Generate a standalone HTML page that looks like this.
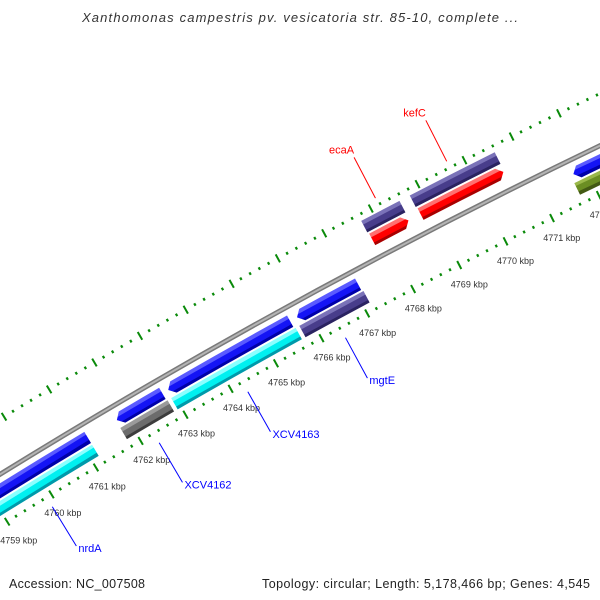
<!DOCTYPE html>
<html><head><meta charset="utf-8"><style>
html,body{margin:0;padding:0;background:#fff;}
svg{display:block;}
text{font-family:"Liberation Sans","DejaVu Sans",sans-serif;}
</style></head><body>
<svg id="map" width="600" height="600" viewBox="0 0 600 600" xmlns="http://www.w3.org/2000/svg">
<defs id="defs"></defs>
<rect x="0" y="0" width="600" height="600" fill="#fff"/>
<g id="ticks"></g>
<g id="backbone"></g>
<g id="features"></g>
<g id="labels"></g>
<text x="300" y="22" text-anchor="middle" font-size="13" font-style="italic" fill="#333" textLength="436">Xanthomonas campestris pv. vesicatoria str. 85-10, complete ...</text>
<text x="9" y="588" font-size="12.5" fill="#222" textLength="136">Accession: NC_007508</text>
<text x="590" y="588" text-anchor="end" font-size="12.5" fill="#222" textLength="328">Topology: circular; Length: 5,178,466 bp; Genes: 4,545</text>
</svg>
<script>
// ---- data (kbp) ----
const featureStarts = [4757.0, 4761.81, 4762.95, 4765.78, 4771.74, 4757.0, 4761.79, 4762.92, 4765.74, 4771.68, 4767.75, 4768.79, 4767.73, 4768.77];
const featureEnds   = [4761.16, 4762.82, 4765.63, 4767.11, 4776.0, 4761.16, 4762.84, 4765.66, 4767.14, 4776.0, 4768.53, 4770.56, 4768.55, 4770.58];
const featureStrands = [-1, -1, -1, -1, -1, 0, 0, 0, 0, 0, 1, 1, 0, 0];
const featureRings = [0, 0, 0, 0, 0, 1, 1, 1, 1, 1, 2, 2, 3, 3];
const featureColors = ['blue','blue','blue','blue','blue','cyan','gray','cyan','purple','olive','red','red','purple','purple'];
const tickStart = 4757;
const tickEnd = 4776;
const labelNames = ['nrdA','XCV4162','XCV4163','mgtE','ecaA','kefC'];
const labelPositions = [4759.89, 4762.29, 4764.26, 4766.41, 4768.17, 4769.69];
const labelSides = [-1, -1, -1, -1, 1, 1];

// ---- geometry ----
const CX = 3441, CY = 6043, K0 = 4760, PHI0 = -121.42, DEG = 0.4582;
const R_BACK = 6546;
const RING_R = [6532, 6517, 6565, 6580];
const HALF = 6.5;
const R_TICK_IN = 6502, R_TICK_OUT = 6593, R_TLABEL = 6480;
const PAL = {
  blue:['#5a5aff','#1414f5','#0000a8'],
  cyan:['#8affff','#00f0f0','#0099aa'],
  gray:['#9a9a9a','#6c6c6c','#3c3c3c'],
  purple:['#7a72b8','#483d8b','#2a2260'],
  olive:['#9ab84a','#6b8e23','#435a14'],
  red:['#ff7070','#ff0000','#a80000']
};
const NS = 'http://www.w3.org/2000/svg';
function ang(k){ return (PHI0 + (k - K0) * DEG) * Math.PI / 180; }
function pt(k, r){ const a = ang(k); return [CX + r * Math.cos(a), CY + r * Math.sin(a)]; }
function f(p){ return p[0].toFixed(2) + ' ' + p[1].toFixed(2); }

// ticks
const tg = document.getElementById('ticks');
const nT = Math.round((tickEnd - tickStart) / 0.2);
for (let i = 0; i <= nT; i++) {
  const k = tickStart + i * 0.2;
  const major = Math.abs(k - Math.round(k)) < 1e-6;
  [R_TICK_IN, R_TICK_OUT].forEach(function(r){
    const len = major ? 4.5 : 1.4;
    const a = pt(k, r - len), b = pt(k, r + len);
    const ln = document.createElementNS(NS, 'line');
    ln.setAttribute('x1', a[0]); ln.setAttribute('y1', a[1]);
    ln.setAttribute('x2', b[0]); ln.setAttribute('y2', b[1]);
    ln.setAttribute('stroke', '#0a8a0a');
    ln.setAttribute('stroke-width', major ? 2 : 2.2);
    
    
    tg.appendChild(ln);
  });
  if (major) {
    const p = pt(k, R_TLABEL);
    const t = document.createElementNS(NS, 'text');
    t.setAttribute('x', p[0]); t.setAttribute('y', p[1] + 3);
    t.setAttribute('text-anchor', 'middle');
    t.setAttribute('font-size', '9');
    t.setAttribute('fill', '#333');
    t.textContent = Math.round(k) + ' kbp';
    
    
    tg.appendChild(t);
  }
}

// backbone
const bb = document.getElementById('backbone');
[[5, '#7a7a7a'], [2, '#b4b4b4']].forEach(function(s){
  const a = pt(tickStart, R_BACK), b = pt(tickEnd, R_BACK);
  const p = document.createElementNS(NS, 'path');
  p.setAttribute('d', 'M' + f(a) + ' A' + R_BACK + ' ' + R_BACK + ' 0 0 1 ' + f(b));
  p.setAttribute('fill', 'none');
  p.setAttribute('stroke', s[1]);
  p.setAttribute('stroke-width', s[0]);
  
  
  bb.appendChild(p);
});

// features
const fg = document.getElementById('features');
const defs = document.getElementById('defs');
for (let i = 0; i < featureStarts.length; i++) {
  const s = featureStarts[i], e = featureEnds[i];
  const rc = RING_R[featureRings[i]];
  const ro = rc + HALF, ri = rc - HALF;
  const aLen = 6 / (rc * DEG * Math.PI / 180);
  let d;
  if (featureStrands[i] === 1) {
    d = 'M' + f(pt(s, ro)) + ' A' + ro + ' ' + ro + ' 0 0 1 ' + f(pt(e - aLen, ro)) +
        ' L' + f(pt(e, rc)) + ' L' + f(pt(e - aLen, ri)) +
        ' A' + ri + ' ' + ri + ' 0 0 0 ' + f(pt(s, ri)) + ' Z';
  } else if (featureStrands[i] === -1) {
    d = 'M' + f(pt(s, rc)) + ' L' + f(pt(s + aLen, ro)) +
        ' A' + ro + ' ' + ro + ' 0 0 1 ' + f(pt(e, ro)) +
        ' L' + f(pt(e, ri)) +
        ' A' + ri + ' ' + ri + ' 0 0 0 ' + f(pt(s + aLen, ri)) + ' Z';
  } else {
    d = 'M' + f(pt(s, ro)) + ' A' + ro + ' ' + ro + ' 0 0 1 ' + f(pt(e, ro)) +
        ' L' + f(pt(e, ri)) +
        ' A' + ri + ' ' + ri + ' 0 0 0 ' + f(pt(s, ri)) + ' Z';
  }
  const pal = PAL[featureColors[i]];
  const mid = (Math.max(s, tickStart) + Math.min(e, tickEnd)) / 2;
  const g1 = pt(mid, ro), g2 = pt(mid, ri);
  const gr = document.createElementNS(NS, 'linearGradient');
  gr.setAttribute('id', 'fg' + i);
  gr.setAttribute('gradientUnits', 'userSpaceOnUse');
  gr.setAttribute('x1', g1[0]); gr.setAttribute('y1', g1[1]);
  gr.setAttribute('x2', g2[0]); gr.setAttribute('y2', g2[1]);
  [[0, pal[0]], [0.3, pal[0]], [0.34, pal[1]], [0.76, pal[1]], [0.8, pal[2]], [1, pal[2]]].forEach(function(st){
    const so = document.createElementNS(NS, 'stop');
    so.setAttribute('offset', st[0]); so.setAttribute('stop-color', st[1]);
    gr.appendChild(so);
  });
  defs.appendChild(gr);
  const p = document.createElementNS(NS, 'path');
  p.setAttribute('d', d);
  p.setAttribute('fill', 'url(#fg' + i + ')');
  
  
  fg.appendChild(p);
}

// labels
const lg = document.getElementById('labels');
for (let i = 0; i < labelNames.length; i++) {
  const k = labelPositions[i];
  const inner = labelSides[i] < 0;
  const a = pt(k, inner ? 6491 : 6600), b = pt(k, inner ? 6445 : 6646);
  const col = inner ? '#0000ff' : '#ff0000';
  const ln = document.createElementNS(NS, 'line');
  ln.setAttribute('x1', a[0]); ln.setAttribute('y1', a[1]);
  ln.setAttribute('x2', b[0]); ln.setAttribute('y2', b[1]);
  ln.setAttribute('stroke', col); ln.setAttribute('stroke-width', '1');
  
  
  lg.appendChild(ln);
  const t = document.createElementNS(NS, 'text');
  if (inner) {
    t.setAttribute('x', b[0] + 2); t.setAttribute('y', b[1] + 6);
  } else {
    t.setAttribute('x', b[0]); t.setAttribute('y', b[1] - 4);
    t.setAttribute('text-anchor', 'end');
  }
  t.setAttribute('font-size', '11');
  t.setAttribute('fill', col);
  t.textContent = labelNames[i];
  
  
  lg.appendChild(t);
}
</script>
</body></html>
